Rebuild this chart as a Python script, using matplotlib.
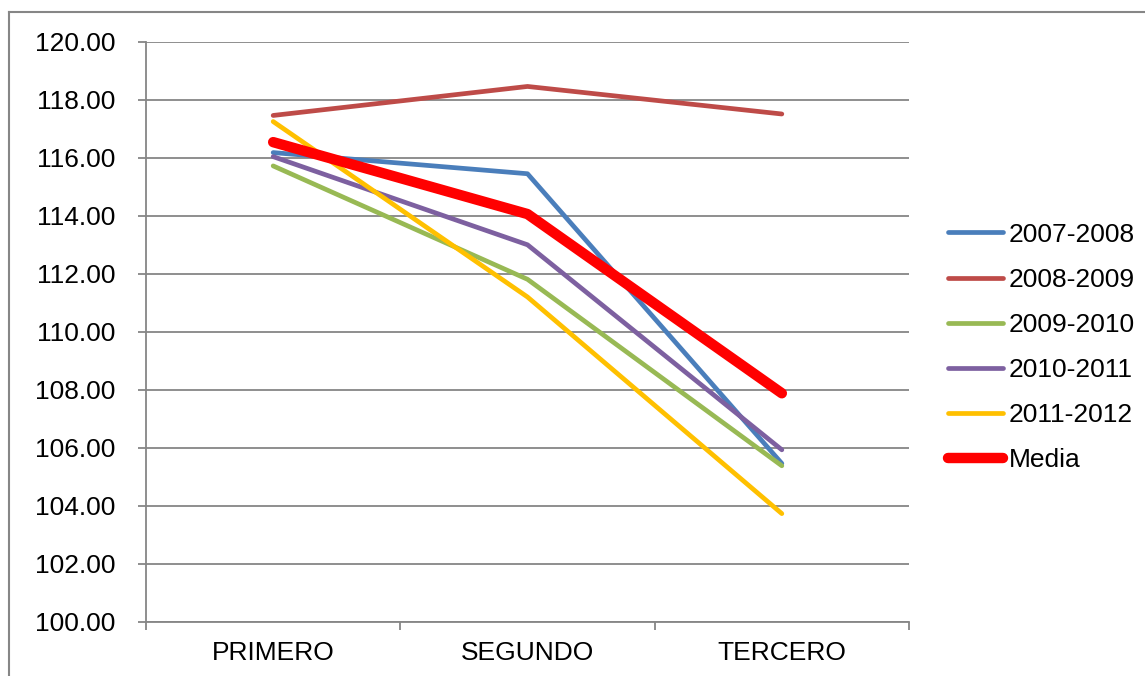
import matplotlib
matplotlib.use("Agg")
import matplotlib.pyplot as plt
from matplotlib.lines import Line2D
from matplotlib.ticker import FormatStrFormatter, FixedLocator

plt.rcParams['font.family'] = ['Liberation Sans', 'DejaVu Sans']

categories = ["PRIMERO", "SEGUNDO", "TERCERO"]
series_names = ["2007-2008", "2008-2009", "2009-2010", "2010-2011", "2011-2012", "Media"]
v_2007_2008 = [116.17, 115.44, 105.45]
v_2008_2009 = [117.45, 118.45, 117.50]
v_2009_2010 = [115.71, 111.80, 105.37]
v_2010_2011 = [116.03, 112.99, 105.92]
v_2011_2012 = [117.24, 111.19, 103.72]
v_media = [116.53, 114.05, 107.87]

series_values = [v_2007_2008, v_2008_2009, v_2009_2010, v_2010_2011, v_2011_2012, v_media]
colors = ["#4A7EBB", "#BE4B48", "#98B954", "#7D60A0", "#FFC000", "#FF0000"]
widths = [3.4, 3.4, 3.4, 3.4, 3.4, 7.5]

W, H = 1145, 676
fig = plt.figure(figsize=(W / 100, H / 100), dpi=100)
ax = fig.add_axes([146 / W, 1 - 621.5 / H, (909 - 146) / W, (621.5 - 41.5) / H])

x = list(range(len(categories)))
for vals, name, c, lw in zip(series_values, series_names, colors, widths):
    ax.plot(x, vals, color=c, lw=lw, label=name,
            solid_capstyle='round', solid_joinstyle='round')

ax.set_xlim(-0.5, len(categories) - 0.5)
ax.set_ylim(100, 120)
ax.set_yticks([100 + 2 * i for i in range(11)])
ax.yaxis.set_major_formatter(FormatStrFormatter('%.2f'))
ax.grid(axis='y', color='#868686', lw=1.3)
ax.set_axisbelow(True)

ax.set_xticks(x)
ax.set_xticklabels(categories)
ax.xaxis.set_minor_locator(FixedLocator([i - 0.5 for i in range(len(categories) + 1)]))
ax.tick_params(axis='x', which='major', length=0, pad=14, labelsize=19)
ax.tick_params(axis='x', which='minor', length=6, width=1.3, color='#868686', direction='out')
ax.tick_params(axis='y', length=6, width=1.3, color='#868686', direction='out',
               pad=16, labelsize=19)

for s in ['top', 'right']:
    ax.spines[s].set_visible(False)
for s in ['left', 'bottom']:
    ax.spines[s].set_color('#868686')
    ax.spines[s].set_linewidth(1.3)

leg = ax.legend(loc='center left', bbox_to_anchor=(948 / W, 1 - 347.5 / H),
                bbox_transform=fig.transFigure, frameon=False, fontsize=19,
                handlelength=2.1, handletextpad=0.2, labelspacing=0.8,
                borderaxespad=0, borderpad=0)

# chart area border (left and top edges)
fig.add_artist(Line2D([9 / W, 9 / W], [0, 1 - 12 / H], transform=fig.transFigure,
                      color='#868686', lw=1.5))
fig.add_artist(Line2D([9 / W, 1], [1 - 12 / H, 1 - 12 / H], transform=fig.transFigure,
                      color='#868686', lw=1.5))

fig.savefig("out.png", dpi=100)
